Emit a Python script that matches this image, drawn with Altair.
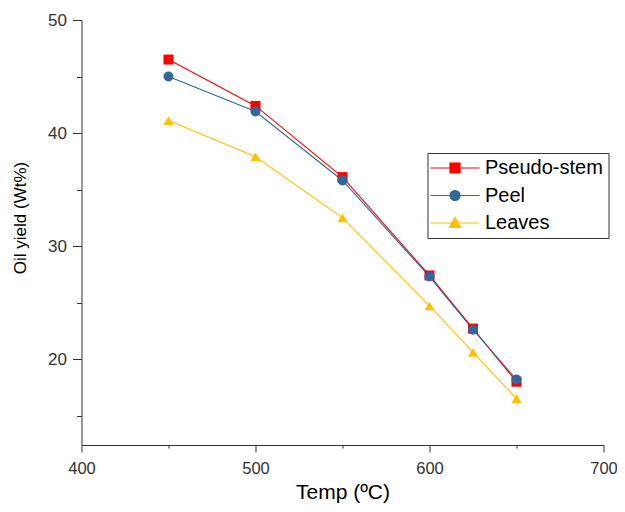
import altair as alt
import pandas as pd

# ---- data ----
temps = [450, 500, 550, 600, 625, 650]
pseudo_stem = [46.5, 42.4, 36.1, 27.4, 22.7, 18.0]
peel = [45.0, 41.9, 35.8, 27.3, 22.6, 18.2]
leaves = [41.1, 37.9, 32.5, 24.7, 20.6, 16.5]
series_names = ["Pseudo-stem", "Peel", "Leaves"]
series_colors = ["#FF0000", "#336699", "#FFC000"]
plot_shapes = ["square", "circle", "triangle-up"]
# legend symbols: marker with a line segment through it (Origin style)
legend_shapes = [
    "M-4.9,0H4.9M-1,-1H1V1H-1Z",
    "M-4.9,0H4.9M-1,0A1,1,0,1,0,1,0A1,1,0,1,0,-1,0Z",
    "M-4.9,0H4.9M0,-1.14L1.1,0.86H-1.1Z",
]
x_ticks = [400, 450, 500, 550, 600, 650, 700]
y_ticks = [15, 20, 25, 30, 35, 40, 45, 50]

rows = []
draw_order = ["Leaves", "Pseudo-stem", "Peel"]
vals = {"Pseudo-stem": pseudo_stem, "Peel": peel, "Leaves": leaves}
for name in draw_order:
    for t, v in zip(temps, vals[name]):
        rows.append({"Temp": t, "Yield": v, "Series": name})
df = pd.DataFrame(rows)

FONT = "Liberation Sans"
W, H = 522, 425

x_enc = alt.X(
    "Temp:Q",
    scale=alt.Scale(domain=[400, 700], nice=False, zero=False),
    axis=alt.Axis(
        values=x_ticks,
        labelExpr="datum.value % 100 === 0 ? datum.label : ''",
        tickSize={"condition": {"test": "datum.value % 100 === 0", "value": 7}, "value": 3},
        grid=False,
        domainColor="#333333",
        tickColor="#333333",
        labelFont=FONT,
        labelFontSize=16.5,
        labelColor="#333333",
        labelPadding=21,
        labelBaseline="alphabetic",
        labelFlush=False,
        title="Temp (ºC)",
        titleFont=FONT,
        titleFontSize=21,
        titleFontWeight="normal",
        titleColor="#000000",
        titleBaseline="alphabetic",
        titleAlign="center",
        titleX=W / 2,
        titleY=53,
    ),
)
y_enc = alt.Y(
    "Yield:Q",
    scale=alt.Scale(domain=[12.4, 50], nice=False, zero=False),
    axis=alt.Axis(
        values=y_ticks,
        labelExpr="datum.value % 10 === 0 ? datum.label : ''",
        tickSize={"condition": {"test": "datum.value % 10 === 0", "value": 9}, "value": 5},
        grid=False,
        domainColor="#333333",
        tickColor="#333333",
        labelFont=FONT,
        labelFontSize=17,
        labelColor="#333333",
        labelPadding=6,
        labelFlush=False,
        title="Oil yield (Wt%)",
        titleFont=FONT,
        titleFontSize=17,
        titleFontWeight="normal",
        titleColor="#000000",
        titleAngle=270,
        titleBaseline="alphabetic",
        titleAlign="center",
        titleX=-56.5,
        titleY=197.5,
    ),
)

color_scale = alt.Scale(domain=series_names, range=series_colors)

lines = alt.Chart(df).mark_line(strokeWidth=1.1).encode(
    x=x_enc, y=y_enc,
    color=alt.Color("Series:N", scale=color_scale, legend=None),
    detail="Series:N",
)
points = alt.Chart(df).mark_point(filled=True, size=100, opacity=1).encode(
    x=x_enc, y=y_enc,
    color=alt.Color("Series:N", scale=color_scale, legend=None),
    shape=alt.Shape("Series:N", scale=alt.Scale(domain=series_names, range=plot_shapes), legend=None),
)

leg = alt.Legend(
    title=None,
    orient="none",
    legendX=346,
    legendY=133,
    strokeColor="#333333",
    fillColor="white",
    padding=5,
    labelFont=FONT,
    labelFontSize=20,
    labelColor="#000000",
    symbolSize=100,
    symbolStrokeWidth=1.2,
    symbolOpacity=1,
    symbolOffset=12.5,
    labelOffset=20,
    rowPadding=7.5,
)
legend_layer = alt.Chart(df).mark_point(filled=True, size=100, opacity=0, strokeWidth=1.2).encode(
    x=x_enc, y=y_enc,
    shape=alt.Shape("Series:N", scale=alt.Scale(domain=series_names, range=legend_shapes), legend=leg),
    fill=alt.Fill("Series:N", scale=alt.Scale(domain=series_names, range=series_colors), legend=leg),
    stroke=alt.Stroke("Series:N", scale=alt.Scale(domain=series_names, range=series_colors), legend=leg),
)

chart = alt.layer(lines, points, legend_layer).resolve_scale(
    shape="independent", fill="independent", stroke="independent"
).properties(
    width=W,
    height=H,
    background="white",
    padding={"left": 73.5, "top": 12, "right": 13.5, "bottom": 59},
    autosize=alt.AutoSizeParams(type="none"),
).configure_view(stroke=None)

chart.save("out.html", embed_options={"renderer": "svg", "actions": False})
